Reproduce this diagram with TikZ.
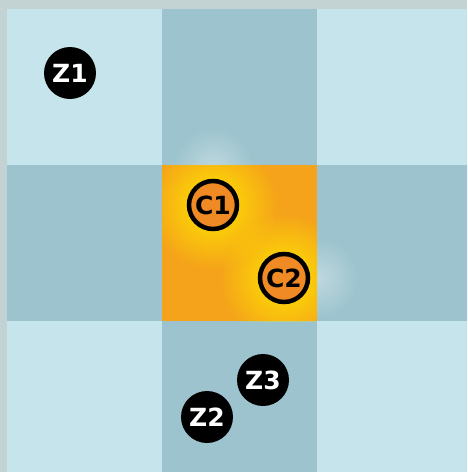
\documentclass[tikz,border=0pt]{standalone}
\usepackage{fontspec}
\setmainfont{DejaVu Sans}[BoldFont=DejaVu Sans Bold]
\usetikzlibrary{fadings, positioning}
\definecolor{frame}{HTML}{C3D3D4}
\definecolor{lightcell}{HTML}{C6E4EC}
\definecolor{darkcell}{HTML}{9DC4CE}
\definecolor{hotcell}{HTML}{F5A31A}
\definecolor{glow}{HTML}{FFE600}
\definecolor{hotdot}{HTML}{EF8A24}
\tikzfading[name=glowfade, inner color=transparent!0, outer color=transparent!100]
\tikzstyle{zone} = [circle, fill=black, text=white, minimum size=52pt, inner sep=0pt, font=\fontsize{25}{25}\selectfont\bfseries]
\tikzstyle{core} = [circle, fill=hotdot, draw=black, line width=4.5pt, text=black, minimum size=48pt, inner sep=0pt, font=\fontsize{25}{25}\selectfont\bfseries]

\begin{document}
\begin{tikzpicture}[x=1pt, y=-1pt]
    \useasboundingbox (0,0) rectangle (467,472);
    \fill[frame] (0,0) rectangle (467,472);

    % Raster
    \begin{scope}
        \clip (7,9) rectangle (467,472);
        \foreach \i in {0,1,2} {
            \foreach \j in {0,1,2} {
                \pgfmathparse{int(mod(\i+\j,2))}
                \ifnum\pgfmathresult=0
                    \fill[lightcell] (7+155*\i,9+156*\j) rectangle ++(155,156);
                \else
                    \fill[darkcell] (7+155*\i,9+156*\j) rectangle ++(155,156);
                \fi
            }
        }
        % Schein um die Mitte
        \fill[white, opacity=0.35, path fading=glowfade] (213,168) circle (40pt);
        \fill[white, opacity=0.35, path fading=glowfade] (318,278) circle (40pt);
    \end{scope}

    % Mittelzelle
    \fill[hotcell] (162,165) rectangle (317,321);
    \begin{scope}
        \clip (162,165) rectangle (317,321);
        \fill[glow, path fading=glowfade] (213,205) circle (65pt);
        \fill[glow, path fading=glowfade] (284,278) circle (65pt);
    \end{scope}

    % Punkte
    \node (z1) [zone] at (70,73) {Z1};
    \node (c1) [core] at (213,205) {C1};
    \node (c2) [core] at (284,278) {C2};
    \node (z3) [zone] at (263,380) {Z3};
    \node (z2) [zone] at (207,417) {Z2};
\end{tikzpicture}
\end{document}
